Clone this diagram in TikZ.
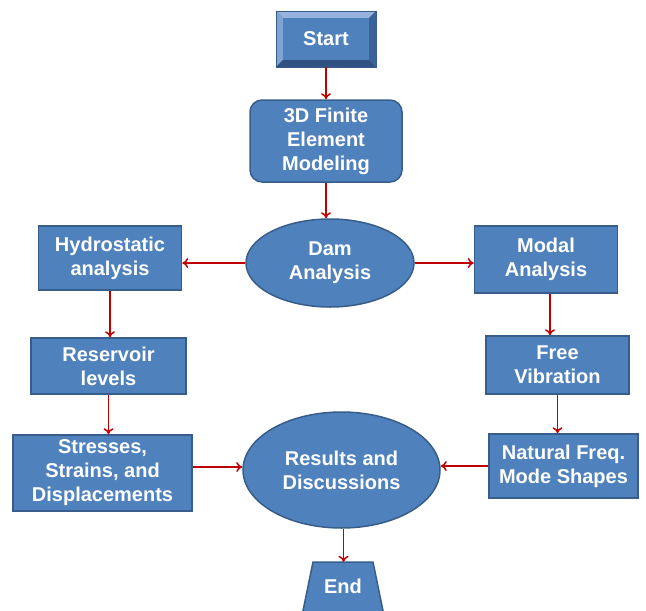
\documentclass[tikz,border=0pt]{standalone}
\usepackage{fontspec}
\setmainfont{Liberation Sans}
\usetikzlibrary{arrows.meta,shapes.geometric}
\definecolor{boxfill}{HTML}{4F81BD}
\definecolor{boxedge}{HTML}{385D8A}
\definecolor{arrowred}{HTML}{C00000}
\definecolor{bevlight}{HTML}{7FA3D3}
\definecolor{bevlighter}{HTML}{95B3DE}
\definecolor{bevdark}{HTML}{3A6399}
\definecolor{bevdarker}{HTML}{2F5283}
\tikzset{
  txt/.style={text=white,font=\fontsize{20}{24}\selectfont\bfseries,align=center},
  procbox/.style={txt,draw=boxedge,fill=boxfill,line width=1.5pt,inner sep=0pt},
  roundbox/.style={procbox,rounded corners=12pt},
  oval/.style={txt,ellipse,draw=boxedge,fill=boxfill,line width=1.5pt,inner sep=0pt},
  conn/.style={draw=arrowred,line width=1.5pt,-{To[length=6pt,width=10pt]}}
}
\begin{document}
\begin{tikzpicture}[x=1pt,y=-1pt]
\useasboundingbox (0,0) rectangle (646,611);
% Start (bevelled)
\fill[boxedge] (276,11) rectangle (376,67);
\fill[bevlighter] (276,11) -- (376,11) -- (369,18) -- (283,18) -- cycle;
\fill[bevlight] (276,11) -- (283,18) -- (283,60) -- (276,67) -- cycle;
\fill[bevdarker] (276,67) -- (283,60) -- (369,60) -- (376,67) -- cycle;
\fill[bevdark] (376,11) -- (369,18) -- (369,60) -- (376,67) -- cycle;
\fill[boxfill] (283,18) rectangle (369,60);
\draw[boxedge,line width=1pt] (276,11) rectangle (376,67);
\node[txt,minimum width=100pt,minimum height=56pt,inner sep=0pt] (start) at (326,39) {Start};
% boxes
\node[roundbox,minimum width=152pt,minimum height=82pt] (fem) at (326,141) {3D Finite\\Element\\Modeling};
\node[oval,minimum width=168pt,minimum height=88pt] (dam) at (330,263) {Dam\\Analysis};
\node[procbox,minimum width=143pt,minimum height=64pt] (hydro) at (110,258) {Hydrostatic\\analysis};
\node[procbox,minimum width=143pt,minimum height=67pt] (modal) at (546,259.5) {Modal\\Analysis};
\node[procbox,minimum width=155pt,minimum height=56pt] (res) at (108.5,366) {Reservoir\\levels};
\node[procbox,minimum width=143pt,minimum height=58pt] (free) at (557.5,365) {Free\\Vibration};
\node[procbox,minimum width=179pt,minimum height=76pt] (stress) at (102.5,473) {Stresses,\\Strains, and\\Displacements};
\node[oval,minimum width=197pt,minimum height=116pt] (results) at (341.5,470) {Results and\\Discussions};
\node[procbox,minimum width=149pt,minimum height=64pt] (nat) at (563.5,466) {Natural Freq.\\Mode Shapes};
% End (trapezoid, clipped by page)
\filldraw[fill=boxfill,draw=boxedge,line width=1.5pt] (313,562) -- (373,562) -- (389,640) -- (297,640) -- cycle;
\node[txt,minimum width=60pt,minimum height=49pt,inner sep=0pt] (end) at (343,586.5) {End};
% connectors
\draw[conn] (start.south) -- (fem.north);
\draw[conn] (fem.south) -- (fem.south |- dam.north);
\draw[conn] (dam.west) -- (hydro.east |- dam.west);
\draw[conn] (dam.east) -- (modal.west |- dam.east);
\draw[conn] (hydro.south) -- (hydro.south |- res.north);
\draw[conn] ([xshift=4pt]modal.south) -- ([xshift=4pt]modal.south |- free.north);
\draw[conn] (res.south) -- (res.south |- stress.north);
\draw[conn] (free.south) -- (free.south |- nat.north);
\draw[conn] (stress.east |- 0,467) -- (results.west |- 0,467);
\draw[conn] (nat.west) -- (results.east |- nat.west);
\draw[conn] ([xshift=2pt]results.south) -- ([xshift=2pt]results.south |- end.north);
\end{tikzpicture}
\end{document}
